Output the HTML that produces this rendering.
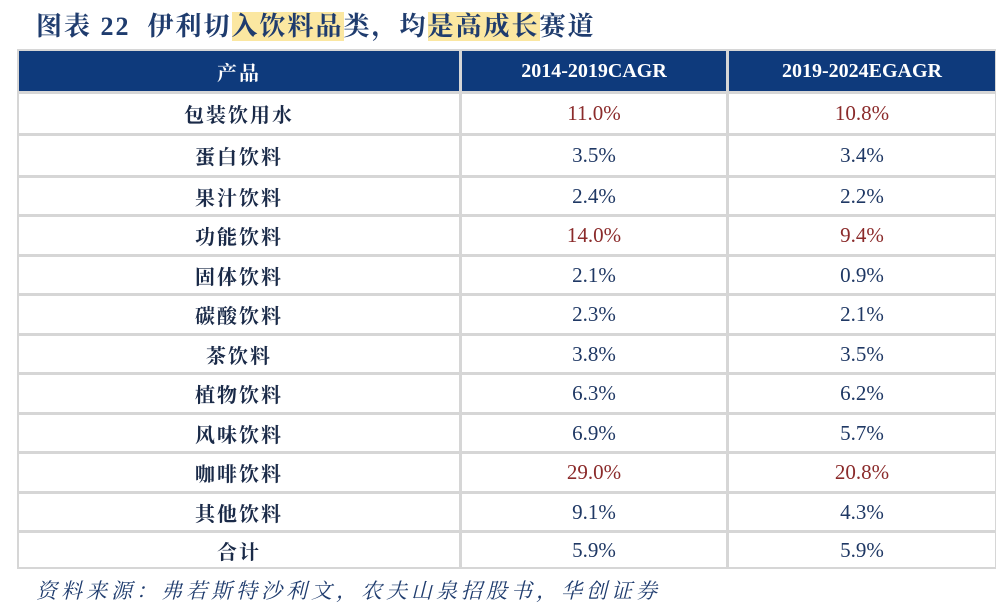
<!DOCTYPE html>
<html><head><meta charset="utf-8"><style>
body{margin:0;width:1004px;height:614px;background:#fff;position:relative;overflow:hidden;font-family:"Liberation Serif","Noto Serif CJK SC",serif}
.t{position:absolute;left:36px;top:6px;font-size:26px;color:#1f3c6e;font-weight:bold;letter-spacing:2px;white-space:nowrap}
.hl{background:#fbe7a1}
.tbl{position:absolute;left:17px;top:49px;width:979px;height:520px;background:#d6d6d6}
.c{position:absolute;display:flex;align-items:center;justify-content:center;background:#fff;font-size:21px;color:#1f3864}
.lab{font-family:"Noto Serif CJK SC","Noto Sans CJK SC",serif;font-weight:bold;color:#1a2a48;font-size:20px;letter-spacing:2px}
.c.h{background:#0e3a7c;color:#fff;font-weight:bold;font-size:20px}
.r{color:#8b2b2b}
.f{position:absolute;left:36px;top:575px;font-size:21px;color:#1f3c6e;font-style:italic;font-family:"Liberation Serif","Noto Serif CJK SC",serif;letter-spacing:4px;white-space:nowrap}
</style></head><body>
<div class="t">图表 22&nbsp;&nbsp;伊利切<span class="hl">入饮料品</span>类，均<span class="hl">是高成长</span>赛道</div>
<div class="tbl" id="tbl"></div>
<div class="f">资料来源：弗若斯特沙利文，农夫山泉招股书，华创证券</div>
<script>
const products=["包装饮用水","蛋白饮料","果汁饮料","功能饮料","固体饮料","碳酸饮料","茶饮料","植物饮料","风味饮料","咖啡饮料","其他饮料","合计"];
const cagr1419=["11.0%","3.5%","2.4%","14.0%","2.1%","2.3%","3.8%","6.3%","6.9%","29.0%","9.1%","5.9%"];
const cagr1924=["10.8%","3.4%","2.2%","9.4%","0.9%","2.1%","3.5%","6.2%","5.7%","20.8%","4.3%","5.9%"];
const redRows=[0,3,9];
const bounds=[92,134,176,215,255,294,334,373,413,452,492,531,568];
const cols=[[17,460],[460,727],[727,996]];
const tbl=document.getElementById('tbl');
function cell(x0,x1,y0,y1,txt,cls,name){
  const d=document.createElement('div');
  d.className='c '+cls;
  d.style.left=(x0-17+2)+'px';d.style.width=(x1-x0-3)+'px';
  d.style.top=(y0-49+2)+'px';d.style.height=(y1-y0-3)+'px';
  d.textContent=txt;
  
  
  tbl.appendChild(d);
}
const heads=["产品","2014-2019CAGR","2019-2024EGAGR"];
heads.forEach((h,i)=>cell(cols[i][0],cols[i][1],49,92,h,(i==0?'lab ':'')+'h','header-cell'));
products.forEach((p,i)=>{
  const y0=bounds[i],y1=bounds[i+1];
  const red=redRows.includes(i)?' r':'';
  cell(cols[0][0],cols[0][1],y0,y1,p,'lab','product-cell');
  cell(cols[1][0],cols[1][1],y0,y1,cagr1419[i],red,'cagr-2014-2019-cell');
  cell(cols[2][0],cols[2][1],y0,y1,cagr1924[i],red,'cagr-2019-2024-cell');
});
</script>
</body></html>
